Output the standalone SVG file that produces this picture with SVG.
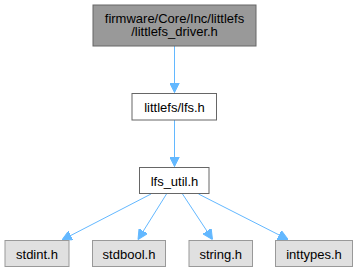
<svg xmlns="http://www.w3.org/2000/svg" width="358" height="272" viewBox="0 0 358 272">
  <style>
    .node rect { stroke-width: 1; }
    .main rect { fill: #999999; stroke: #666666; }
    .file rect { fill: #ffffff; stroke: #666666; }
    .sys rect { fill: #e0e0e0; stroke: #999999; }
    text { font-family: "Liberation Sans", Arial, sans-serif; font-size: 13px; fill: #000000; text-anchor: middle; }
    .edge { stroke: #63b8ff; stroke-width: 1; fill: none; }
  </style>
  <defs>
    <marker id="arrow" viewBox="0 0 10 10" refX="10" refY="5" markerWidth="10" markerHeight="10" markerUnits="userSpaceOnUse" orient="auto">
      <path d="M0,0 L10,5 L0,10 z" fill="#63b8ff" stroke="#63b8ff"/>
    </marker>
  </defs>
  <rect width="358" height="272" fill="#ffffff"/>

  <g id="edges">
    <line class="edge" x1="174.5" y1="46" x2="174.5" y2="92.5" marker-end="url(#arrow)"/>
    <line class="edge" x1="174.5" y1="120" x2="174.5" y2="166.5" marker-end="url(#arrow)"/>
    <line class="edge" x1="151" y1="194" x2="62" y2="240" marker-end="url(#arrow)"/>
    <line class="edge" x1="166.5" y1="194" x2="138" y2="239.5" marker-end="url(#arrow)"/>
    <line class="edge" x1="182.5" y1="194" x2="212.5" y2="239.5" marker-end="url(#arrow)"/>
    <line class="edge" x1="198.5" y1="194" x2="288" y2="239.5" marker-end="url(#arrow)"/>
  </g>

  <g id="node-littlefs_driver" class="node main">
    <rect x="93" y="5" width="163" height="41"/>
    <text x="174.5" y="22.5">firmware/Core/Inc/littlefs</text>
    <text x="174.5" y="36">/littlefs_driver.h</text>
  </g>
  <g id="node-lfs" class="node file">
    <rect x="132" y="93.5" width="84.5" height="26.5"/>
    <text x="174.5" y="111.5">littlefs/lfs.h</text>
  </g>
  <g id="node-lfs_util" class="node file">
    <rect x="139.5" y="167.5" width="69.5" height="26"/>
    <text x="174.5" y="185.5">lfs_util.h</text>
  </g>
  <g id="node-stdint" class="node sys">
    <rect x="5" y="240.5" width="64" height="26"/>
    <text x="37" y="258.5">stdint.h</text>
  </g>
  <g id="node-stdbool" class="node sys">
    <rect x="92.5" y="240.5" width="73" height="26"/>
    <text x="129" y="258.5">stdbool.h</text>
  </g>
  <g id="node-string" class="node sys">
    <rect x="189" y="240.5" width="63.5" height="26"/>
    <text x="220.75" y="258.5">string.h</text>
  </g>
  <g id="node-inttypes" class="node sys">
    <rect x="275.5" y="240.5" width="77" height="26"/>
    <text x="314" y="258.5">inttypes.h</text>
  </g>
</svg>
